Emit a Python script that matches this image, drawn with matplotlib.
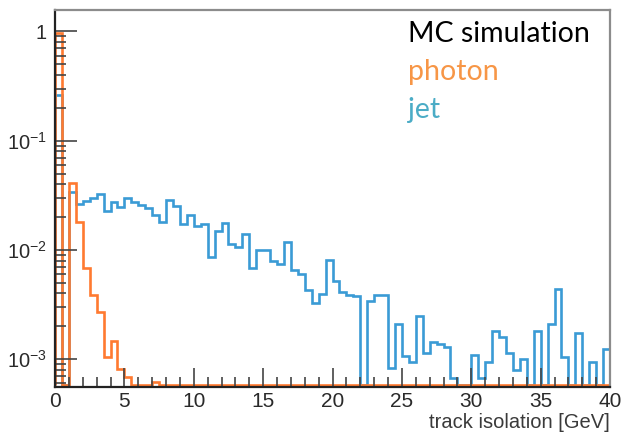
import numpy as np
import matplotlib
matplotlib.use("Agg")
import matplotlib.pyplot as plt
from matplotlib.ticker import MultipleLocator, LogLocator, NullFormatter

plt.rcParams['font.family'] = ['Liberation Sans', 'DejaVu Sans']
plt.rcParams['mathtext.fontset'] = 'custom'
plt.rcParams['mathtext.rm'] = 'Liberation Sans'
plt.rcParams['mathtext.it'] = 'Liberation Sans:italic'
plt.rcParams['mathtext.bf'] = 'Liberation Sans:bold'

# ---- data: 80 bins of 0.5 GeV from 0 to 40 ----
bin_edges = np.arange(0, 40.01, 0.5)

photon = [0.97, 0, 0.041, 0.0181, 0.0068, 0.0039, 0.0027, 0.00104, 0.00147, 0.00081,
          0.00068, 0, 0, 0, 0.00062, 0, 0, 0, 0, 0,
          0, 0, 0, 0, 0, 0, 0, 0, 0, 0,
          0, 0, 0, 0, 0, 0, 0, 0, 0, 0,
          0, 0, 0, 0, 0, 0, 0, 0, 0, 0,
          0, 0, 0, 0, 0, 0, 0, 0, 0, 0,
          0, 0, 0, 0, 0, 0, 0, 0, 0, 0,
          0, 0, 0, 0, 0, 0, 0, 0, 0, 0]

jet = [0.26, 0, 0.034, 0.0266, 0.0282, 0.0300, 0.0325, 0.0226, 0.0274, 0.0249,
       0.0297, 0.0277, 0.0258, 0.0240, 0.0209, 0.0180, 0.0286, 0.0255, 0.0172, 0.0210,
       0.0165, 0.0172, 0.0086, 0.0150, 0.0175, 0.0114, 0.0107, 0.0140, 0.0068, 0.0099,
       0.0099, 0.0080, 0.0074, 0.0119, 0.0066, 0.0060, 0.0043, 0.00325, 0.00395, 0.0081,
       0.0052, 0.0041, 0.0039, 0.0038, 0, 0.00344, 0.0039, 0.0039, 0.00083, 0.0021,
       0.00106, 0.00094, 0.0025, 0.00115, 0.00145, 0.00138, 0.00129, 0.00067, 0, 0,
       0.00110, 0.00067, 0.00095, 0.00183, 0.00161, 0.00113, 0.00079, 0.00101, 0, 0.00183,
       0, 0.0021, 0.0044, 0.00104, 0, 0.00175, 0, 0.00094, 0, 0.00124]

legend_title = "MC simulation"
series_names = ["photon", "jet"]
x_label = "track isolation [GeV]"
y_ticks = [1e-3, 1e-2, 1e-1, 1]
y_ticklabels = [r'$10^{-3}$', r'$10^{-2}$', r'$10^{-1}$', '1']

# ---- figure ----
W, H = 622, 433
fig = plt.figure(figsize=(W / 100, H / 100), dpi=100)
ax = fig.add_axes([55 / W, 1 - 386.7 / H, (610 - 55) / W, (386.7 - 10) / H])

ymin, ymax = 5.6e-4, 1.57
floor = ymin * 10 ** (2.0 / 109.3)

photon_col = '#ff7a30'
jet_col = '#3a9bd5'

ax.stairs(np.maximum(np.array(jet), floor), bin_edges, baseline=floor,
          color=jet_col, lw=1.9)
ax.stairs(np.maximum(np.array(photon), floor), bin_edges, baseline=floor,
          color=photon_col, lw=1.9)

ax.set_yscale('log')
ax.set_xlim(0, 40)
ax.set_ylim(ymin, ymax)

ax.xaxis.set_major_locator(MultipleLocator(5))
ax.xaxis.set_minor_locator(MultipleLocator(1))
ax.set_yticks(y_ticks, y_ticklabels)
ax.yaxis.set_minor_locator(LogLocator(base=10, subs=np.arange(2, 10), numticks=20))
ax.yaxis.set_minor_formatter(NullFormatter())

tick_col = '#444444'
ax.tick_params(axis='x', which='major', direction='in', length=14, width=1.2,
               color=tick_col, labelsize=15, labelcolor='#2a2a2a', pad=4)
ax.tick_params(axis='x', which='minor', direction='in', length=7, width=1.2, color=tick_col)
ax.tick_params(axis='y', which='major', direction='in', length=16, width=1.2,
               color=tick_col, labelsize=14.5, labelcolor='#2a2a2a', pad=6)
ax.tick_params(axis='y', which='minor', direction='in', length=8, width=1.2, color=tick_col)

for s in ['left', 'bottom']:
    ax.spines[s].set_color('#222222')
    ax.spines[s].set_linewidth(1.6)
for s in ['top', 'right']:
    ax.spines[s].set_color('#8c8c8c')
    ax.spines[s].set_linewidth(1.6)

fig.text(610 / W, 1 - 423 / H, x_label, ha='right', va='center',
         fontsize=14.5, color='#3a3a3a')

# legend-like text block
fig.text(408 / W, 1 - 42 / H, legend_title, ha='left', va='baseline',
         fontsize=20.5, color='black', family=['Lato', 'DejaVu Sans'])
fig.text(408 / W, 1 - 80 / H, series_names[0], ha='left', va='baseline',
         fontsize=20.5, color='#f79646', family=['Lato', 'DejaVu Sans'])
fig.text(408 / W, 1 - 118 / H, series_names[1], ha='left', va='baseline',
         fontsize=20.5, color='#4bacc6', family=['Lato', 'DejaVu Sans'])

fig.savefig('out.png', dpi=100)
